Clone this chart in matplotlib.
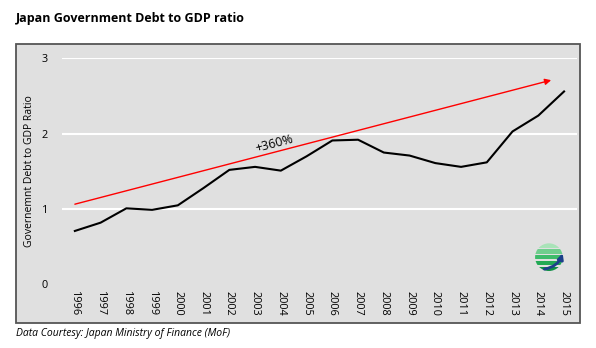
import numpy as np
import matplotlib
matplotlib.use("Agg")
import matplotlib.pyplot as plt
from matplotlib.patches import Rectangle, Circle, FancyArrowPatch

years = [str(y) for y in range(1996, 2016)]
debt_ratio = [0.71, 0.82, 1.01, 0.99, 1.05, 1.28, 1.52, 1.56, 1.51, 1.70,
              1.91, 1.92, 1.75, 1.71, 1.61, 1.56, 1.62, 2.03, 2.24, 2.56]
trend_start = (0, 1.065)
trend_end = (18.5, 2.71)
trend_label = "+360%"

plt.rcParams['font.family'] = ['Open Sans', 'DejaVu Sans']

fig = plt.figure(figsize=(5.96, 3.48), dpi=100)
fig.patch.set_facecolor("white")

# grey panel behind the chart
panel = Rectangle((0.027, 0.072), 0.946, 0.802, transform=fig.transFigure,
                  facecolor="#e0e0e0", edgecolor="#555555", linewidth=1.3, zorder=-5)
fig.patches.append(panel)

ax = fig.add_axes([0.104, 0.1825, 0.864, 0.65])
ax.set_facecolor("none")
x = np.arange(len(years))
ax.plot(x, debt_ratio, color="black", linewidth=1.5, zorder=3)

ax.set_xlim(-0.5, len(years) - 0.5)
ax.set_ylim(0, 3)
ax.set_yticks([0, 1, 2, 3])
ax.set_xticks(x)
ax.set_xticklabels(years, rotation=270)
ax.tick_params(axis="both", length=0, labelsize=7.8)
ax.tick_params(axis="y", pad=10)
ax.tick_params(axis="x", pad=5)
for y in [1, 2, 3]:
    ax.axhline(y, color="white", linewidth=1.5, zorder=1)
for s in ax.spines.values():
    s.set_visible(False)
ax.set_ylabel("Governemnt Debt to GDP Ratio", fontsize=7.5, labelpad=5)

# trend arrow
ax.annotate("", xy=trend_end, xytext=trend_start,
            arrowprops=dict(arrowstyle="-|>", color="red", lw=1.0,
                            mutation_scale=9, shrinkA=0, shrinkB=0), zorder=4)
ax.text(7.75, 1.87, trend_label, rotation=14.5, ha="center", va="center",
        fontsize=9, color="black", zorder=5)

# small logo in the corner
logo = fig.add_axes([0.894, 0.215, 0.054, 0.092])
logo.set_xlim(-1.1, 1.1)
logo.set_ylim(-1.1, 1.1)
logo.set_aspect("equal")
logo.axis("off")
shades = ["#0f8f45", "#22a955", "#3dbb6a", "#6fce8d", "#a9e3b8"]
for i, yy in enumerate(np.linspace(-0.8, 0.8, 5)):
    band = Rectangle((-1.05, yy - 0.15), 2.1, 0.3, facecolor=shades[i], edgecolor="none")
    logo.add_patch(band)
    band.set_clip_path(Circle((0, 0), 0.95, transform=logo.transData))
logo.add_patch(FancyArrowPatch((-0.5, -0.85), (1.0, 0.45), connectionstyle="arc3,rad=0.35",
                               arrowstyle="-|>", mutation_scale=8, color="#1c3f8a", lw=2))

fig.text(0.027, 0.948, "Japan Government Debt to GDP ratio", fontsize=9.0,
         fontweight="bold", ha="left", va="center")
fig.text(0.027, 0.043, "Data Courtesy: Japan Ministry of Finance (MoF)", fontsize=7.5,
         style="italic", ha="left", va="center")

fig.savefig("out.png", dpi=100)
